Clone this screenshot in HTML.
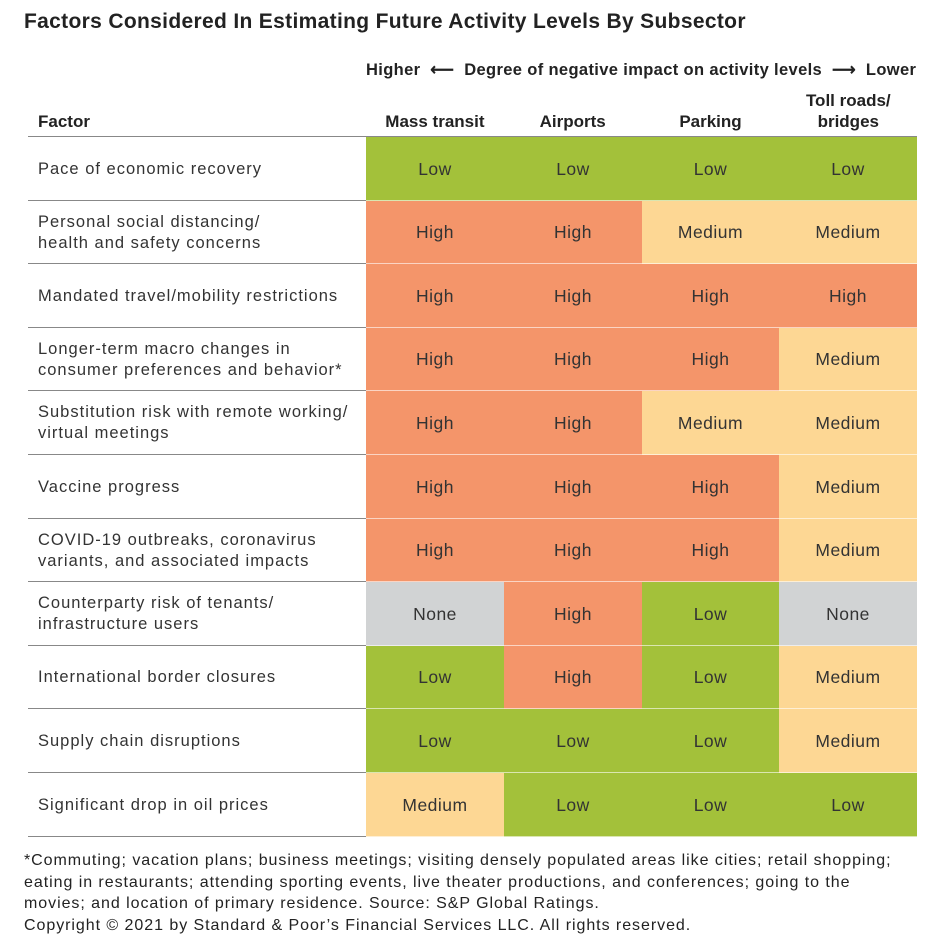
<!DOCTYPE html>
<html><head><meta charset="utf-8">
<style>
body{margin:0;width:936px;height:950px;background:#fff;font-family:"Liberation Sans",sans-serif;color:#222;position:relative;overflow:hidden}
.abs{position:absolute}
#title{left:24px;top:10px;font-size:21px;font-weight:bold;color:#222;letter-spacing:0.33px}
.hdr{font-size:17px;font-weight:bold;text-align:center;line-height:21px}
.fac{font-size:16.5px;color:#333;line-height:21px;left:38px;display:flex;align-items:center;letter-spacing:1px}
.cell{display:flex;align-items:center;justify-content:center;font-size:17.5px;color:#333;letter-spacing:0.5px}
#foot{left:24px;top:850px;font-size:16px;line-height:21.5px;color:#222;letter-spacing:0.95px;white-space:nowrap}
</style></head><body>
<div id="title" class="abs">Factors Considered In Estimating Future Activity Levels By Subsector</div>
<div class="abs" style="left:366px;top:60px;font-size:16.5px;font-weight:bold;white-space:nowrap;letter-spacing:0.36px">Higher &nbsp;⟵&nbsp; Degree of negative impact on activity levels &nbsp;⟶&nbsp; Lower</div>
<div class="abs hdr" style="left:38px;top:111px;text-align:left">Factor</div>
<div id="tbl"></div>
<div id="foot" class="abs">*Commuting; vacation plans; business meetings; visiting densely populated areas like cities; retail shopping;<br>eating in restaurants; attending sporting events, live theater productions, and conferences; going to the<br>movies; and location of primary residence. Source: S&amp;P Global Ratings.<br>Copyright © 2021 by Standard &amp; Poor’s Financial Services LLC. All rights reserved.</div>
<script>
const columns=["Mass transit","Airports","Parking","Toll roads/<br>bridges"];
const factors=["Pace of economic recovery","Personal social distancing/<br>health and safety concerns","Mandated travel/mobility restrictions","Longer-term macro changes in<br>consumer preferences and behavior*","Substitution risk with remote working/<br>virtual meetings","Vaccine progress","COVID-19 outbreaks, coronavirus<br>variants, and associated impacts","Counterparty risk of tenants/<br>infrastructure users","International border closures","Supply chain disruptions","Significant drop in oil prices"];
const massTransit=["Low","High","High","High","High","High","High","None","Low","Low","Medium"];
const airports=["Low","High","High","High","High","High","High","High","High","Low","Low"];
const parking=["Low","Medium","High","High","Medium","High","High","Low","Low","Low","Low"];
const tollRoads=["Low","Medium","High","Medium","Medium","Medium","Medium","None","Medium","Medium","Low"];
const series=[massTransit,airports,parking,tollRoads];
const colors={Low:"#a3c13a",High:"#f4956a",Medium:"#fdd794",None:"#d1d3d4"};
const top0=137,rowH=63.6,colX0=366,colW=137.8,left=28;
const tbl=document.getElementById('tbl');
const slug=s=>s.replace(/<br>/g,' ').toLowerCase().replace(/[^a-z0-9]+/g,'-').replace(/^-|-$/g,'');
columns.forEach((c,j)=>{
  const d=document.createElement('div');
  d.className='abs hdr';
  d.style.cssText=`left:${colX0+j*colW}px;width:${colW}px;bottom:${950-132}px`;
  d.innerHTML=c;
  
  
  tbl.appendChild(d);
});
const hl=document.createElement('div');
hl.className='abs';hl.style.cssText=`left:${left}px;top:${top0-1}px;width:${colX0+4*colW-left}px;height:1px;background:#888`;


tbl.appendChild(hl);
factors.forEach((f,i)=>{
  const y=Math.round(top0+i*rowH);
  const y2=Math.round(top0+(i+1)*rowH);
  const l=document.createElement('div');
  l.className='abs fac';l.style.cssText=`top:${y}px;height:${y2-y}px;width:330px`;
  l.innerHTML='<span>'+f+'</span>';
  
  
  tbl.appendChild(l);
  series.forEach((s,j)=>{
    const c=document.createElement('div');
    c.className='abs cell';
    const x=Math.round(colX0+j*colW),x2=Math.round(colX0+(j+1)*colW);
    c.style.cssText=`left:${x}px;top:${y}px;width:${x2-x}px;height:${y2-y}px;background:${colors[s[i]]}`;
    c.textContent=s[i];
    
    
    tbl.appendChild(c);
  });
  const ln=document.createElement('div');
  ln.className='abs';
  ln.style.cssText=`left:${left}px;top:${y2-1}px;width:${colX0-left}px;height:1px;background:#888`;
  
  
  tbl.appendChild(ln);
  const ln2=document.createElement('div');
  ln2.className='abs';
  ln2.style.cssText=`left:${colX0}px;top:${y2-1}px;width:${Math.round(4*colW)}px;height:1px;background:rgba(255,255,255,0.6)`;
  
  
  tbl.appendChild(ln2);
});
</script>
</body></html>
